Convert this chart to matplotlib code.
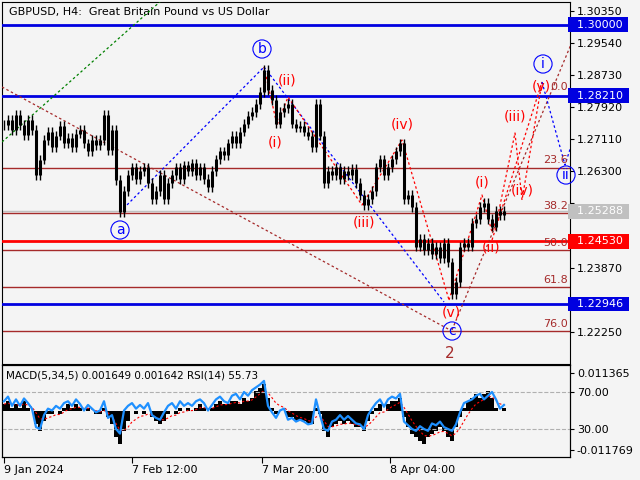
import matplotlib
matplotlib.use("Agg")
import matplotlib.pyplot as plt
import numpy as np

# ---- data ----
closes = [1.2747,1.2759,1.2734,1.2772,1.2747,1.2722,1.2759,1.2734,
          1.2620,1.2659,
          1.2709,1.2730,1.2690,1.2720,1.2745,1.2700,1.2715,1.2690,1.2725,1.2735,1.2700,1.2680,1.2710,1.2695,
          1.2709,1.2772,1.2684,1.2734,1.2608,1.2527,
          1.2580,1.2620,1.2640,1.2610,1.2630,1.2640,1.2600,1.2560,1.2580,1.2620,
          1.2560,
          1.2600,1.2620,1.2640,1.2610,1.2645,1.2630,1.2650,1.2620,1.2640,1.2610,1.2590,1.2630,
          1.2660,1.2680,1.2670,1.2700,1.2720,1.2700,1.2730,1.2750,1.2770,1.2780,
          1.2800,1.2830,1.2885,1.2835,1.2810,1.2750,1.2780,1.2790,1.2800,1.2750,1.2740,1.2745,1.2730,1.2720,1.2690,1.2800,1.2720,1.2600,
          1.2630,1.2620,1.2640,1.2610,1.2630,1.2620,1.2635,1.2600,
          1.2570,1.2545,1.2560,1.2580,1.2640,1.2660,1.2620,1.2640,1.2660,1.2680,1.2700,
          1.2560,1.2570,1.2540,1.2440,
          1.2460,1.2430,1.2450,1.2420,1.2440,
          1.2410,1.2450,1.2400,1.2320,1.2350,1.2440,1.2450,1.2440,1.2500,1.2510,1.2540,1.2550,1.2510,1.2490,1.2530,1.2520,1.2529]
macd_e3 = [2,3,1,2,1,3,1,0,
           -4,-6,-3,-1,-1,0,-1,1,2,1,2,1,0,1,0,-1,
           -1,1,-2,-4,-8,-10,
           -6,-3,0,-1,0,-1,0,-2,-3,-4,
           -3,-1,0,-1,1,0,1,0,1,2,1,0,1,
           2,3,2,2,3,3,2,4,3,4,
           6,7,8,4,1,-1,0,0,-2,-2,-3,-3,-3,-4,-4,1,-1,-6,
           -8,-5,-4,-3,-4,-3,-4,-5,
           -5,-6,-3,-1,1,2,0,2,3,3,4,
           -2,-5,-7,-8,
           -9,-10,-8,-7,-6,
           -5,-6,-8,-9,-5,-2,1,3,4,5,4,5,6,4,1,0,1]
rsi = [60,65,55,62,55,63,58,52,
       32,30,45,52,50,55,52,58,60,55,62,57,50,56,52,48,
       50,60,42,45,30,25,
       50,55,58,52,56,52,58,45,42,40,
       48,55,58,52,60,55,58,55,60,62,58,50,56,
       62,65,60,58,66,68,62,70,66,72,
       75,78,82,55,48,42,50,52,40,42,38,40,38,35,36,62,45,30,
       28,38,40,45,40,44,40,36,
       35,30,45,52,58,62,54,62,65,63,68,
       38,34,30,28,
       33,30,28,36,34,
       38,32,30,28,35,48,58,60,62,66,68,62,66,70,62,52,56]
levels_blue = [1.30000, 1.28210, 1.22946]
level_red = 1.24530
level_last = 1.25288
fib_labels = ["0.0", "23.6", "38.2", "50.0", "61.8", "76.0"]
fib_values = [1.2825, 1.2639, 1.2524, 1.2431, 1.2338, 1.2226]
yticks = [1.30350, 1.29540, 1.28730, 1.27920, 1.27110, 1.26300, 1.25490, 1.24680, 1.23870, 1.23060, 1.22250]
hidden_ticks = [1.25490, 1.24680, 1.23060]
xtick_labels = ["9 Jan 2024", "7 Feb 12:00", "7 Mar 20:00", "8 Apr 04:00"]
xtick_pos = [2, 130, 260, 388]

BG = "#f4f4f4"
def P(ypx):  # pixel row -> price (for annotation placement)
    return 1.3035 - (ypx - 10.7) * 0.0002523

fig = plt.figure(figsize=(6.4, 4.8), dpi=100, facecolor=BG)
ax = fig.add_axes([2/640, 1-364/480, 568/640, 362/480], facecolor=BG)
ax.set_xlim(0, 568)
ax.set_ylim(P(364), P(2))

x = 2 + 4*np.arange(len(closes))
c = np.array(closes)
o = np.r_[c[0], c[:-1]]
ax.vlines(x, np.minimum(o, c) - 0.0012, np.maximum(o, c) + 0.0012, color="black", lw=1, zorder=5)
ax.vlines(x, o, c, color="black", lw=2.2, zorder=5)

for lv in levels_blue:
    ax.axhline(lv, color="#0000e0", lw=2, zorder=3)
ax.axhline(level_red, color="red", lw=2, zorder=3)
ax.axhline(level_last, color="#c0c0c0", lw=1, zorder=2)
for lab, v in zip(fib_labels, fib_values):
    if lab != "0.0":
        ax.axhline(v, color="#a52a2a", lw=1, zorder=2)
    ax.text(566, v + 0.0006, lab, color="#a52a2a", fontsize=8, ha="right", va="bottom", zorder=6)

def line(pts, color):
    xs = [p[0] for p in pts]; ys = [P(p[1]) for p in pts]
    ax.plot(xs, ys, color=color, lw=0.9, ls=(0, (2, 2)), zorder=4)

line([(0, 142), (160, 0)], "green")
line([(0, 87), (448, 330)], "#a52a2a")
line([(450, 330), (575, 30)], "#a52a2a")
line([(118, 212), (262, 67)], "blue")
line([(262, 67), (442, 302)], "blue")
line([(262, 67), (275, 125), (286, 97), (360, 205), (400, 140), (447, 300)], "red")
line([(447, 300), (480, 195), (490, 232), (496, 215), (513, 133), (520, 200), (540, 82)], "red")
line([(490, 240), (540, 82)], "red")
line([(540, 82), (563, 165), (570, 143)], "blue")

def circ(xp, yp, t):
    ax.text(xp, P(yp), t, color="blue", fontsize=10, ha="center", va="center", zorder=7,
            bbox=dict(boxstyle="circle,pad=0.15", fc="none", ec="blue", lw=0.8))
circ(260, 49, "b"); circ(118, 230, "a"); circ(450, 331, "c"); circ(541, 64, "i"); circ(564, 175, "ii")
ax.text(448, P(354), "2", color="#a52a2a", fontsize=11, ha="center", va="center")
for xp, yp, t in [(285, 81, "(ii)"), (273, 142, "(i)"), (362, 222, "(iii)"), (400, 125, "(iv)"),
                  (449, 312, "(v)"), (480, 182, "(i)"), (489, 248, "(ii)"), (513, 117, "(iii)"),
                  (520, 190, "(iv)"), (539, 86, "(v)")]:
    ax.text(xp, P(yp), t, color="red", fontsize=10, ha="center", va="center", zorder=7)

ax.text(7, P(12), "GBPUSD, H4:  Great Britain Pound vs US Dollar", fontsize=8, va="center")

ax.yaxis.tick_right()
ax.set_yticks(yticks)
ax.set_yticklabels(["" if v in hidden_ticks else f"{v:.5f}" for v in yticks], fontsize=8)
ax.tick_params(axis="y", length=3, pad=2)
ax.set_xticks([])
for lv, fc in [(1.30000, "#0000e0"), (1.28210, "#0000e0"), (level_last, "#c0c0c0"),
               (level_red, "red"), (1.22946, "#0000e0")]:
    ax.text(1.0, lv, f"  {lv:.5f} ", transform=ax.get_yaxis_transform(), fontsize=8,
            color="white", va="center", ha="left", zorder=8,
            bbox=dict(boxstyle="square,pad=0.2", fc=fc, ec="none"))

# ---- MACD / RSI pane ----
mx = fig.add_axes([2/640, 1-457/480, 568/640, 92/480], facecolor=BG)
mx.set_xlim(0, 568)
mv = np.array(macd_e3) * 1e-3
mx.set_ylim(-0.01387, 0.01377)
mx.bar(x, mv, width=4, color="black", zorder=3)
sig = np.zeros_like(mv); a = 2/6
for i in range(len(mv)):
    sig[i] = mv[i] if i == 0 else a*mv[i] + (1-a)*sig[i-1]
mx.plot(x, sig, color="red", lw=0.8, ls=(0, (2, 2)), zorder=4)
mx.set_xticks(xtick_pos)
mx.set_xticklabels(xtick_labels, fontsize=8, ha="left")
mx.tick_params(axis="x", length=4, pad=2)
rx = mx.twinx()
rx.set_ylim(-0.3, 99.2)
rx.plot(x, rsi, color="#1e90ff", lw=1.6, zorder=5)
rx.axhline(70, color="#b0b0b0", lw=0.8, ls="--")
rx.axhline(30, color="#b0b0b0", lw=0.8, ls="--")
rx.set_yticks([70, 30])
rx.set_yticklabels(["70.00", "30.00"], fontsize=8)
rx.tick_params(axis="y", length=3, pad=2)
mx.set_yticks([0.011365, -0.011769])
mx.set_yticklabels(["0.011365", "-0.011769"], fontsize=8)
mx.yaxis.tick_right()
mx.tick_params(axis="y", length=3, pad=2, labelleft=False, labelright=True, left=False, right=True)
mx.text(4, 0.0105, "MACD(5,34,5) 0.001649 0.001642 RSI(14) 55.73", fontsize=7.5, va="center", zorder=6)

fig.savefig("out.png", dpi=100, facecolor=BG)
